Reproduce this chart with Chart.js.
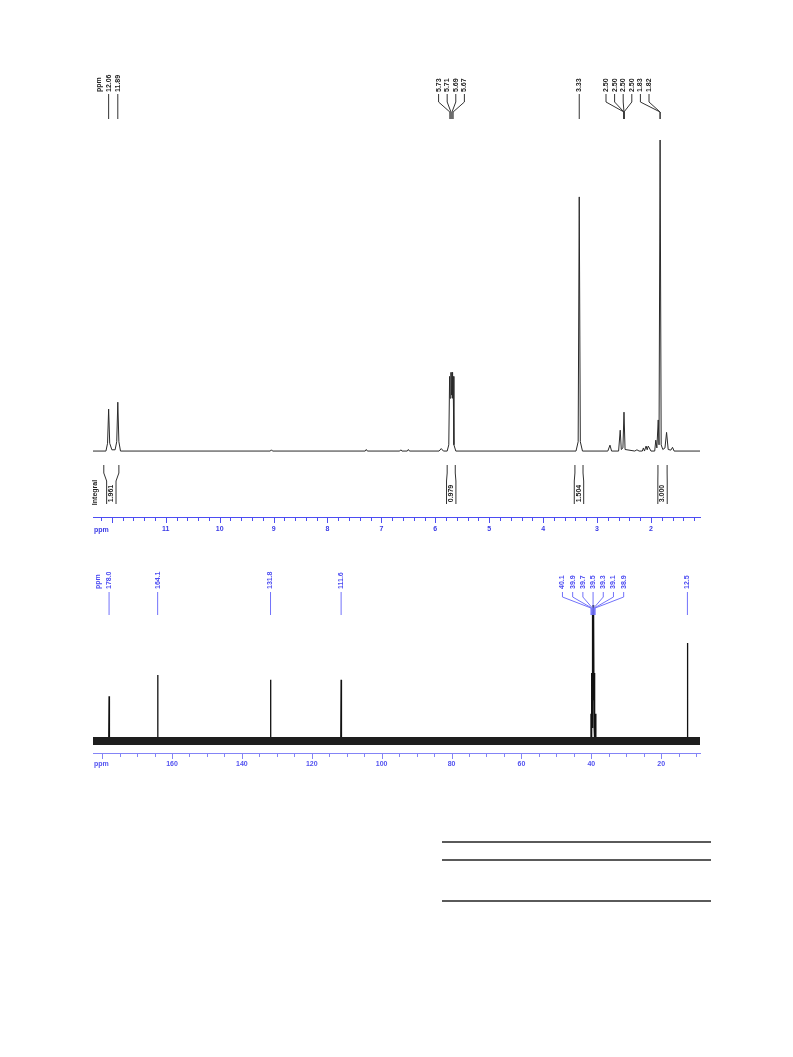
<!DOCTYPE html>
<html><head><meta charset="utf-8">
<script src="https://cdn.jsdelivr.net/npm/chart.js@4/dist/chart.umd.min.js"></script>
<style>
html,body{margin:0;padding:0;background:#fff;}
body{width:793px;height:1057px;position:relative;overflow:hidden;font-family:"Liberation Sans",Arial,sans-serif;}
canvas{position:absolute;left:0;}
#c1{top:0;}
#c2{top:545px;}
.rule{position:absolute;left:442px;width:269px;height:2px;background:#5a5a5a;}
</style></head><body>
<canvas id="c1" width="793" height="545"></canvas>
<canvas id="c2" width="793" height="245"></canvas>
<div class="rule" style="top:841px"></div>
<div class="rule" style="top:859px"></div>
<div class="rule" style="top:900px"></div>
<script>
// ---------- 1H spectrum data (ppm, relative intensity) ----------
const H1_PPM = [12.35, 12.11, 12.08, 12.06, 12.04, 12.00, 11.94, 11.91, 11.89, 11.87, 11.84,
  9.06, 9.04, 9.02, 7.30, 7.28, 7.26, 6.66, 6.64, 6.62, 6.52, 6.50, 6.48, 5.93, 5.89, 5.85,
  5.78, 5.75, 5.735, 5.725, 5.71, 5.70, 5.69, 5.68, 5.67, 5.655, 5.62,
  3.39, 3.35, 3.33, 3.31, 3.27,
  2.80, 2.76, 2.73, 2.60, 2.57, 2.55, 2.52, 2.50, 2.48, 2.30, 2.26, 2.22, 2.16, 2.14, 2.12, 2.09, 2.07, 2.05, 2.03, 2.00,
  1.93, 1.91, 1.89, 1.865, 1.85, 1.83, 1.81, 1.78, 1.74, 1.71, 1.68, 1.63, 1.60, 1.57, 1.09];
const H1_INT = [0, 0, 0.025, 0.135, 0.025, 0.004, 0.004, 0.03, 0.157, 0.03, 0,
  0, 0.004, 0, 0, 0.005, 0, 0, 0.004, 0, 0, 0.005, 0, 0, 0.008, 0,
  0, 0.02, 0.24, 0.17, 0.253, 0.18, 0.253, 0.17, 0.24, 0.02, 0,
  0, 0.03, 0.817, 0.03, 0,
  0, 0.019, 0, 0, 0.067, 0.005, 0.01, 0.125, 0.005, 0, 0.004, 0, 0, 0.01, 0, 0.016, 0.004, 0.016, 0.01, 0,
  0, 0.035, 0.01, 0.1, 0.02, 1.0, 0.02, 0.005, 0.01, 0.06, 0.005, 0.003, 0.012, 0, 0];
const H1_LABEL_TEXT = ['12.06', '11.89', '5.73', '5.71', '5.69', '5.67', '3.33', '2.50', '2.50', '2.50', '2.50', '1.83', '1.82'];
const H1_LABEL_PPM = [12.06, 11.89, 5.73, 5.71, 5.69, 5.67, 3.33, 2.50, 2.50, 2.50, 2.50, 1.83, 1.83];
const H1_INTEGRAL_FROM = [12.15, 5.78, 3.41, 1.87];
const H1_INTEGRAL_TO = [11.87, 5.63, 3.26, 1.70];
const H1_INTEGRAL_VALUE = ['1.961', '0.979', '1.504', '3.000'];
const H1_MAJOR_TICKS = [12, 11, 10, 9, 8, 7, 6, 5, 4, 3, 2];
const H1_TICK_LABELS = ['', '11', '10', '9', '8', '7', '6', '5', '4', '3', '2'];
const H1_MINOR_STEP = 0.2;
const H1_RANGE = [1.09, 12.35];

// ---------- 13C spectrum data ----------
const C13_PPM = [182.6, 178.1, 178.0, 177.9, 164.2, 164.1, 164.0, 131.9, 131.8, 131.7, 111.7, 111.6, 111.5,
  40.3, 40.1, 40.0, 39.9, 39.8, 39.7, 39.6, 39.5, 39.4, 39.3, 39.2, 39.1, 39.0, 38.9, 38.7,
  12.6, 12.5, 12.4, 8.9];
const C13_INT = [0, 0, 0.33, 0, 0, 0.485, 0, 0, 0.45, 0, 0, 0.45, 0,
  0, 0.2, 0, 0.5, 0.1, 0.95, 0.3, 1.0, 0.3, 0.95, 0.1, 0.5, 0, 0.2, 0,
  0, 0.72, 0, 0];
const C13_NOISE_PPM = [182.6, 8.9];
const C13_NOISE_INT = [0, 0];
const C13_LABEL_TEXT = ['178.0', '164.1', '131.8', '111.6', '40.1', '39.9', '39.7', '39.5', '39.3', '39.1', '38.9', '12.5'];
const C13_LABEL_PPM = [178.0, 164.1, 131.8, 111.6, 40.1, 39.9, 39.7, 39.5, 39.3, 39.1, 38.9, 12.5];
const C13_MAJOR_TICKS = [180, 160, 140, 120, 100, 80, 60, 40, 20];
const C13_TICK_LABELS = ['', '160', '140', '120', '100', '80', '60', '40', '20'];
const C13_MINOR_STEP = 5;
const C13_RANGE = [8.9, 182.6];

const FONT = '"Liberation Sans", Arial, sans-serif';

function pts(xs, ys) { return xs.map((x, i) => ({ x: x, y: ys[i] })); }

function spread(targets, gap, lo, hi) {
  let cl = targets.map(t => ({ ts: [t] }));
  const pos = c => {
    let m = c.ts.reduce((a, b) => a + b, 0) / c.ts.length;
    const half = (c.ts.length - 1) * gap / 2;
    return Math.min(Math.max(m, lo + half), hi - half);
  };
  let changed = true;
  while (changed) {
    changed = false;
    for (let k = 0; k < cl.length - 1; k++) {
      const a = cl[k], b = cl[k + 1];
      const aEnd = pos(a) + (a.ts.length - 1) * gap / 2;
      const bStart = pos(b) - (b.ts.length - 1) * gap / 2;
      if (bStart - aEnd < gap - 0.01) { a.ts = a.ts.concat(b.ts); cl.splice(k + 1, 1); changed = true; break; }
    }
  }
  const out = [];
  cl.forEach(c => { const m = pos(c), n = c.ts.length; for (let j = 0; j < n; j++) out.push(m + (j - (n - 1) / 2) * gap); });
  return out;
}

function vtext(ctx, s, x, y, align) {
  ctx.save(); ctx.translate(x, y); ctx.rotate(-Math.PI / 2);
  ctx.textAlign = align || 'left'; ctx.textBaseline = 'middle';
  ctx.fillText(s, 0, 0); ctx.restore();
}

function drawTicks(ctx, scale, majors, color, majLen, minLen) {
  ctx.strokeStyle = color; ctx.lineWidth = 1;
  const y = scale.top;
  scale.ticks.forEach(t => {
    const px = Math.round(scale.getPixelForValue(t.value)) + 0.5;
    const isMaj = majors.some(m => Math.abs(m - t.value) < 1e-6);
    ctx.beginPath(); ctx.moveTo(px, y); ctx.lineTo(px, y + (isMaj ? majLen : minLen)); ctx.stroke();
  });
}

function buildTicks(range, step) {
  return function (s) {
    const t = [];
    const start = Math.ceil(range[0] / step - 1e-9), end = Math.floor(range[1] / step + 1e-9);
    for (let k = start; k <= end; k++) t.push({ value: +(k * step).toFixed(4) });
    s.ticks = t;
  };
}

function tickLabel(majors, labels) {
  return function (v) {
    const i = majors.findIndex(m => Math.abs(m - v) < 1e-6);
    return i >= 0 ? labels[i] : '';
  };
}

// ---------- 1H chart ----------
const AX1 = '#4d4df2';
const h1Annot = {
  id: 'h1annot',
  afterDraw(chart) {
    const ctx = chart.ctx, x = chart.scales.x, area = chart.chartArea;
    ctx.save();
    drawTicks(ctx, x, H1_MAJOR_TICKS, AX1, 6, 4);
    ctx.fillStyle = '#3a3ae6'; ctx.font = 'bold 7px ' + FONT;
    ctx.textAlign = 'left'; ctx.textBaseline = 'middle';
    ctx.fillText('ppm', area.left + 1, x.top + 13);

    // peak labels
    ctx.fillStyle = '#222'; ctx.strokeStyle = '#333'; ctx.lineWidth = 1;
    ctx.font = 'bold 7px ' + FONT;
    const targets = H1_LABEL_PPM.map(p => x.getPixelForValue(p));
    const lx = spread(targets, 8.6, area.left, area.right - 51);
    const yTxt = area.top + 22;
    vtext(ctx, 'ppm', lx[0] - 10, yTxt);
    H1_LABEL_TEXT.forEach((s, i) => {
      vtext(ctx, s, lx[i], yTxt);
      ctx.beginPath();
      ctx.moveTo(lx[i], yTxt + 2); ctx.lineTo(lx[i], yTxt + 10);
      ctx.lineTo(targets[i], yTxt + 20); ctx.lineTo(targets[i], yTxt + 27);
      ctx.stroke();
    });

    // integrals
    const y0 = x.top - 52, y1 = x.top - 44, y2 = x.top - 36, y3 = x.top - 13;
    vtext(ctx, 'Integral', area.left + 2, (y2 + y3) / 2, 'center');
    H1_INTEGRAL_FROM.forEach((f, i) => {
      const xa = x.getPixelForValue(f), xb = x.getPixelForValue(H1_INTEGRAL_TO[i]);
      const cx = (xa + xb) / 2, hw = 4.7;
      ctx.beginPath();
      ctx.moveTo(xa, y0); ctx.lineTo(xa, y1); ctx.lineTo(cx - hw, y2); ctx.lineTo(cx - hw, y3);
      ctx.moveTo(xb, y0); ctx.lineTo(xb, y1); ctx.lineTo(cx + hw, y2); ctx.lineTo(cx + hw, y3);
      ctx.stroke();
      vtext(ctx, H1_INTEGRAL_VALUE[i], cx, (y2 + y3) / 2 + 1, 'center');
    });
    ctx.restore();
  }
};

new Chart(document.getElementById('c1'), {
  type: 'line',
  data: { datasets: [{ data: pts(H1_PPM, H1_INT), borderColor: '#2a2a2a', borderWidth: 1, pointRadius: 0, tension: 0, fill: false }] },
  options: {
    responsive: false, animation: false, devicePixelRatio: 1,
    layout: { padding: { left: 93, right: 93, top: 70, bottom: 0 } },
    plugins: { legend: { display: false }, tooltip: { enabled: false } },
    scales: {
      x: {
        type: 'linear', reverse: true, min: H1_RANGE[0], max: H1_RANGE[1],
        afterBuildTicks: buildTicks(H1_RANGE, H1_MINOR_STEP),
        afterFit: s => { s.height = 28; },
        grid: { display: false, drawTicks: false },
        border: { display: true, color: AX1, width: 1 },
        ticks: { autoSkip: false, maxRotation: 0, minRotation: 0, padding: 8, color: '#3a3ae6', font: { family: FONT, size: 7, weight: 'bold' }, callback: tickLabel(H1_MAJOR_TICKS, H1_TICK_LABELS) }
      },
      y: { display: false, min: -0.212, max: 1.225 }
    }
  },
  plugins: [h1Annot]
});

// ---------- 13C chart ----------
const AX2 = '#8484f6';
const c13Annot = {
  id: 'c13annot',
  afterDraw(chart) {
    const ctx = chart.ctx, x = chart.scales.x, area = chart.chartArea;
    ctx.save();
    drawTicks(ctx, x, C13_MAJOR_TICKS, AX2, 6, 4);
    ctx.fillStyle = '#5252f0'; ctx.font = 'bold 7px ' + FONT;
    ctx.textAlign = 'left'; ctx.textBaseline = 'middle';
    ctx.fillText('ppm', area.left + 1, x.top + 11);

    ctx.fillStyle = '#4c4cf2'; ctx.strokeStyle = '#7272fa'; ctx.lineWidth = 1;
    const targets = C13_LABEL_PPM.map(p => x.getPixelForValue(p));
    const lx = spread(targets, 10.2, area.left, area.right);
    const yTxt = area.top + 29;
    vtext(ctx, 'ppm', lx[0] - 11, yTxt);
    C13_LABEL_TEXT.forEach((s, i) => {
      vtext(ctx, s, lx[i], yTxt);
      ctx.beginPath();
      ctx.moveTo(lx[i], yTxt + 3); ctx.lineTo(lx[i], yTxt + 8);
      ctx.lineTo(targets[i], yTxt + 19); ctx.lineTo(targets[i], yTxt + 26);
      ctx.stroke();
    });
    ctx.restore();
  }
};

new Chart(document.getElementById('c2'), {
  type: 'line',
  data: {
    datasets: [
      { data: pts(C13_NOISE_PPM, C13_NOISE_INT), borderColor: '#1e1e1e', borderWidth: 8, pointRadius: 0, tension: 0, fill: false },
      { data: pts(C13_PPM, C13_INT), borderColor: '#111', borderWidth: 1.3, pointRadius: 0, tension: 0, fill: false }
    ]
  },
  options: {
    responsive: false, animation: false, devicePixelRatio: 1,
    layout: { padding: { left: 93, right: 93, top: 15, bottom: 0 } },
    plugins: { legend: { display: false }, tooltip: { enabled: false } },
    scales: {
      x: {
        type: 'linear', reverse: true, min: C13_RANGE[0], max: C13_RANGE[1],
        afterBuildTicks: buildTicks(C13_RANGE, C13_MINOR_STEP),
        afterFit: s => { s.height = 37; },
        grid: { display: false, drawTicks: false },
        border: { display: true, color: AX2, width: 1 },
        ticks: { autoSkip: false, maxRotation: 0, minRotation: 0, padding: 7, color: '#5252f0', font: { family: FONT, size: 7, weight: 'bold' }, callback: tickLabel(C13_MAJOR_TICKS, C13_TICK_LABELS) }
      },
      y: { display: false, min: -0.088, max: 1.331 }
    }
  },
  plugins: [c13Annot]
});
</script>
</body></html>
